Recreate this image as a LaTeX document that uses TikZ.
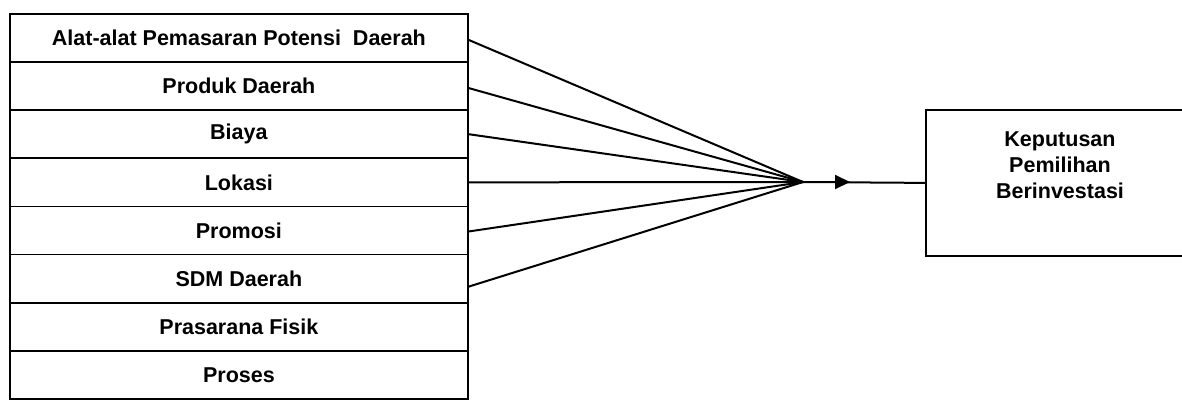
\documentclass[tikz,border=0pt]{standalone}
\usepackage{fontspec}
\setmainfont{Liberation Sans}
\usetikzlibrary{arrows.meta}
\begin{document}
\begin{tikzpicture}[x=1pt,y=-1pt,line width=1.8pt,
  rowbox/.style={draw, minimum width=458pt, minimum height=48.125pt, anchor=north west, inner sep=0pt, font=\bfseries\fontsize{21.5}{26}\selectfont},
  resbox/.style={draw, minimum width=270pt, minimum height=146pt, anchor=north west, inner sep=0pt},
  link/.style={line width=2pt},
  lbl/.style={align=center, font=\bfseries\fontsize{21.5}{26}\selectfont, inner sep=0pt}]
\useasboundingbox (0,0) rectangle (1182,399);
\clip (0,0) rectangle (1182,399);
\node[rowbox] (r1) at (9,13) {Alat-alat Pemasaran Potensi\ \ Daerah};
\node[rowbox] (r2) at (9,61.125) {Produk Daerah};
\node[rowbox] (r3) at (9,109.25) {Biaya};
\node[rowbox] (r4) at (9,157.375) {Lokasi};
\node[rowbox] (r5) at (9,205.5) {Promosi};
\node[rowbox] (r6) at (9,253.625) {SDM Daerah};
\node[rowbox] (r7) at (9,301.75) {Prasarana Fisik};
\node[rowbox] (r8) at (9,349.875) {Proses};
\node[resbox] (k) at (925,109) {};
\node[lbl, anchor=north] (kt) at (1060,131) {Keputusan\\Pemilihan\\Berinvestasi};
\coordinate (c) at (803,182);
\coordinate (tip) at (850,182);
\draw[link] ([yshift=-2pt]r1.east) -- (c);
\draw[link] ([yshift=-2pt]r2.east) -- (c);
\draw[link] (r3.east) -- (c);
\draw[link] (r4.east) -- (c);
\draw[link] ([yshift=-1pt]r5.east) -- (c);
\draw[link] ([yshift=-8pt]r6.east) -- (c);
\draw[link] (c) -- (k.west);
\draw[link,-{Triangle[length=15pt,width=14pt]}] (c) -- (tip);
\end{tikzpicture}
\end{document}
